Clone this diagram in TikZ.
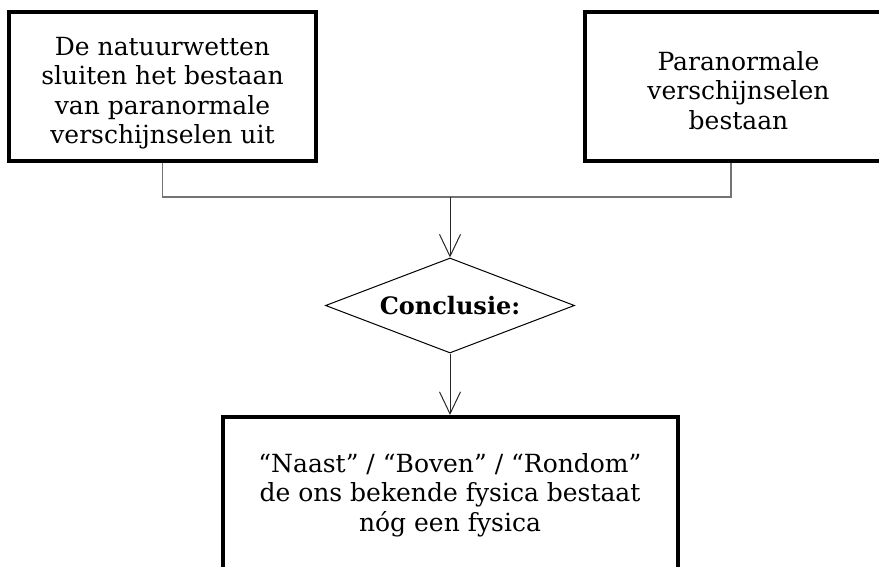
\documentclass[tikz,border=0pt]{standalone}
\usepackage{fontspec}
\setmainfont{DejaVu Serif}
\usetikzlibrary{shapes.geometric,arrows.meta}
\begin{document}
\begin{tikzpicture}[x=1pt, y=-1pt,
    every node/.style={font=\fontsize{25}{29.5}\selectfont},
    claim/.style={draw, line width=4pt, align=center, inner sep=0pt,
      minimum width=307pt, minimum height=149pt},
    verdict/.style={draw, diamond, aspect=2.6, inner sep=0pt, line width=1pt,
      minimum width=249pt, minimum height=95pt, font=\fontsize{24}{29}\selectfont\bfseries},
    elbow/.style={draw=black!55, line width=1.2pt},
    flow/.style={draw=black!85, line width=1pt, -{Straight Barb[length=22pt, width=21pt]}}]
  \useasboundingbox (0,0) rectangle (879,567);
  % premisses
  \node[claim] (natuur) at (162.5,86.5) {\parbox[c][149pt][c]{300pt}{\centering\vspace*{13.5pt}De natuurwetten\\ sluiten het bestaan\\ van paranormale\\ verschijnselen uit}};
  \node[claim] (para) at (738.5,86.5) {\parbox[c][149pt][c]{300pt}{\centering\vspace*{8pt}Paranormale\\ verschijnselen\\ bestaan}};
  \coordinate (parafoot) at ([xshift=-7.5pt]para.south);
  \coordinate (split) at (450,197);
  % conclusie
  \node[verdict] (concl) at (450,305.5) {Conclusie:};
  \node[claim, minimum width=455pt, minimum height=156pt] (fysica) at (450,495)
    {\parbox[c][156pt][c]{440pt}{\centering ``Naast'' / ``Boven'' / ``Rondom''\\ de ons bekende fysica bestaat\\ nóg een fysica}};
  \draw[elbow] (natuur.south) |- (split) -| (parafoot);
  \draw[flow] (split) -- (concl.north);
  \draw[flow] (concl.south) -- (fysica.north);
\end{tikzpicture}
\end{document}
